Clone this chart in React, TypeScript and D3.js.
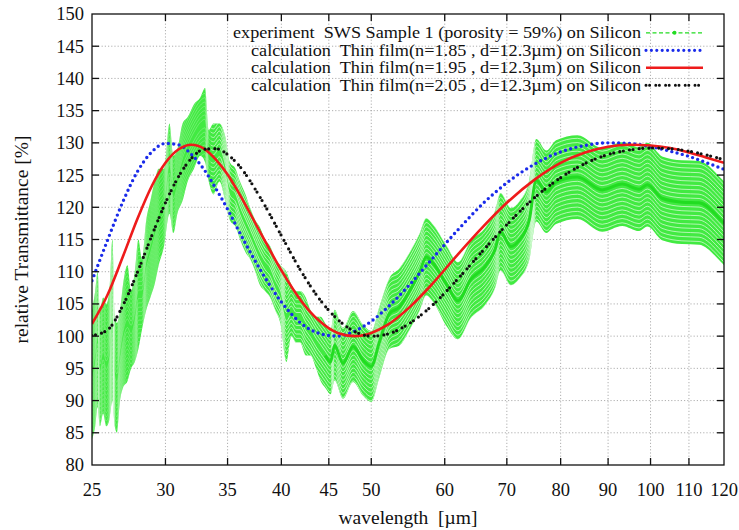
import React from 'react';
import * as d3 from 'd3';

const W = 739;
const H = 530;
const PL = 92, PR = 724, PT = 14, PB = 465;

const xTicks = [25, 30, 35, 40, 45, 50, 60, 70, 80, 90, 100, 110, 120];
const yTicks = [80, 85, 90, 95, 100, 105, 110, 115, 120, 125, 130, 135, 140, 145, 150];

// calculated thin-film curves (wavelength in µm, relative transmittance in %)
const calcWl = [25, 26, 27, 28, 29, 30, 31, 32, 33, 34, 35, 36, 38, 40, 42, 44, 46, 48, 50, 52, 55, 58, 62, 66, 70, 75, 80, 85, 90, 95, 100, 105, 110, 115, 120];
const blueT = [108.6, 115.0, 120.9, 125.6, 128.6, 129.9, 129.7, 128.2, 125.9, 122.9, 119.7, 116.3, 110.2, 105.3, 102.0, 100.4, 100.0, 100.8, 102.3, 104.4, 108.0, 111.8, 116.5, 120.6, 123.8, 126.7, 128.6, 129.6, 130.0, 129.9, 129.4, 128.7, 127.9, 126.9, 125.9];
const redT = [101.9, 106.5, 112.4, 118.3, 123.3, 126.9, 129.0, 129.7, 129.1, 127.4, 125.1, 122.2, 116.0, 110.2, 105.5, 102.3, 100.5, 100.0, 100.5, 101.7, 104.5, 107.9, 112.7, 117.0, 120.7, 124.3, 126.9, 128.5, 129.4, 129.7, 129.6, 129.2, 128.5, 127.7, 126.9];
const blackT = [100.1, 101.0, 104.8, 110.0, 115.6, 120.7, 124.8, 127.6, 129.0, 129.1, 128.2, 126.5, 121.4, 115.6, 110.1, 105.7, 102.6, 100.7, 100.0, 100.3, 102.0, 104.6, 108.9, 113.3, 117.3, 121.5, 124.6, 126.8, 128.2, 128.9, 129.2, 129.1, 128.7, 128.1, 127.4];

// experiment: wavelength, lower bar, value, upper bar
const expWl = [25.0, 25.2, 25.35, 25.5, 25.7, 25.9, 26.1, 26.3, 26.45, 26.6, 26.8, 27.0, 27.3, 27.55, 27.8, 28.05, 28.3, 28.6, 28.9, 29.2, 29.5, 29.9, 30.3, 30.6, 30.9, 31.3, 31.7, 32.2, 32.7, 33.1, 33.4, 33.8, 34.3, 34.8, 35.2, 35.7, 36.1, 36.6, 37.0, 37.5, 37.9, 38.4, 38.9, 39.4, 39.9, 40.5, 41.0, 41.5, 41.9, 42.5, 43.0, 43.6, 44.1, 44.6, 45.2, 45.65, 46.6, 47.8, 48.97, 50.0, 51.0, 52.3, 53.6, 55.0, 56.4, 57.3, 58.3, 60.3, 62.0, 64.0, 66.3, 68.0, 68.9, 70.7, 72.2, 74.0, 75.3, 77.2, 79.1, 83.4, 88.7, 93.2, 97.2, 99.2, 102.9, 108.1, 112.8, 119.1, 120];
const expLow = [84, 86, 89, 86, 88, 86, 87, 90, 86, 85, 90, 92, 93, 95, 96, 98, 101, 104, 106, 108, 111, 114, 119, 116, 119, 121, 124, 126, 128, 127, 124, 122, 124, 121, 118, 117, 115, 113, 112, 110, 108, 107, 106, 104, 102, 96, 100, 99, 99, 97, 97, 95, 93, 92, 91, 93.1, 90.3, 92.9, 90.8, 89.8, 93.5, 98, 98.5, 101, 104, 106.3, 105.3, 101.5, 99.5, 102.8, 104.8, 107.5, 110.2, 107.9, 108.9, 111.8, 117.8, 116.0, 117.4, 118.2, 116.2, 117.1, 116.3, 117.0, 114.9, 114.3, 114.2, 111.5, 111.0];
const expVal = [94, 96.5, 99.5, 95, 97, 95.5, 97, 102.5, 94.5, 93.5, 97, 100, 102, 101, 103, 106.5, 106.5, 111, 113.5, 116, 118.5, 120, 126, 122, 124, 127, 129, 131, 132.5, 133, 128, 127.5, 128.5, 126, 122.5, 121.5, 119.5, 117.5, 116, 114, 112.5, 111, 110, 108, 106.5, 103, 104, 103, 103, 101.5, 100.5, 99, 98, 97, 96, 98.6, 95.8, 98.4, 96.3, 95.3, 99, 103.5, 104.5, 107, 110, 112.3, 111.3, 108, 105.5, 108.8, 110.8, 113.5, 116.2, 113.9, 114.9, 118.0, 124.2, 122.4, 123.9, 124.7, 122.7, 123.6, 122.8, 123.5, 121.4, 120.8, 120.7, 118.0, 117.5];
const expHigh = [104, 107, 110, 104, 106, 105, 107, 115, 103, 102, 104, 108, 111, 107, 110, 115, 112, 118, 121, 124, 126, 126, 133, 128, 129, 133, 134, 136, 137, 138.5, 132, 133, 133, 131, 127, 126, 124, 122, 120, 118, 117, 115, 114, 112, 111, 110, 108, 107, 107, 106, 104, 103, 103, 102, 101, 104.1, 101.3, 103.9, 101.8, 100.8, 104.5, 109, 110.5, 113, 116, 118.3, 117.3, 114, 111.5, 114.8, 116.8, 119.5, 122.2, 119.9, 120.9, 124.2, 130.6, 128.8, 130.4, 131.2, 129.2, 130.1, 129.3, 130.0, 127.9, 127.3, 127.2, 124.5, 124.0];

const legendLabels = [
  'experiment  SWS Sample 1 (porosity = 59%) on Silicon',
  'calculation  Thin film(n=1.85 , d=12.3\u00b5m) on Silicon',
  'calculation  Thin film(n=1.95 , d=12.3\u00b5m) on Silicon',
  'calculation  Thin film(n=2.05 , d=12.3\u00b5m) on Silicon',
];
const legendWidths = [408, 390, 390, 390];

const FONT = "'Liberation Serif', 'Times New Roman', Tinos, 'DejaVu Serif', serif";
const GREEN_BAND = '#42ea42';
const GREEN_LINE = '#22dc22';
const BLUE = '#1a2bea';
const RED = '#ee1b1b';
const BLACK = '#111111';

export default function App() {
  const x = d3.scaleLog().domain([25, 120]).range([PL, PR]);
  const y = d3.scaleLinear().domain([80, 150]).range([PB, PT]);

  const curveLine = d3.line<number>()
    .x((_, i) => x(calcWl[i]))
    .curve(d3.curveMonotoneX);
  const bluePath = curveLine.y((d) => y(d))(blueT) || '';
  const redPath = curveLine.y((d) => y(d))(redT) || '';
  const blackPath = curveLine.y((d) => y(d))(blackT) || '';

  const idx = expWl.map((_, i) => i);
  const band = d3.area<number>()
    .x((i) => x(expWl[i]))
    .y0((i) => y(expLow[i]))
    .y1((i) => y(expHigh[i]))
    .curve(d3.curveMonotoneX)(idx) || '';
  const midLine = (off: number, ids: number[]) =>
    d3.line<number>()
      .x((i) => x(expWl[i]))
      .y((i) => y(expVal[i]) + off)
      .curve(d3.curveMonotoneX)(ids) || '';
  const stripeOffsets = d3.range(-18, 19).filter((k) => k !== 0).map((k) => k * 4.3);
  const splitWl = 33.6;
  const rightIds = idx.filter((i) => expWl[i] >= 44.6);

  const legendX1 = 646, legendX2 = 703, legendTextX = 641;
  const legendY = [32.8, 50.3, 67.8, 85.3];
  const textStyle = { fontFamily: FONT, whiteSpace: 'pre' as const };

  return (
    <svg width={W} height={H} style={{ display: 'block', position: 'absolute', left: 0, top: 0, background: '#fff', fontFamily: FONT }}>
      <defs>
        <clipPath id="plotClip">
          <rect x={PL} y={PT} width={PR - PL} height={PB - PT} />
        </clipPath>
        <clipPath id="bandClip">
          <path d={band} />
        </clipPath>
        <clipPath id="rightClip">
          <rect x={x(splitWl)} y={PT} width={PR - x(splitWl)} height={PB - PT} />
        </clipPath>
        <clipPath id="leftClip">
          <rect x={PL} y={PT} width={x(splitWl) - PL} height={PB - PT} />
        </clipPath>
      </defs>
      <rect x={0} y={0} width={W} height={H} fill="#fff" />
      {/* grid */}
      <g stroke="#9a9a9a" strokeWidth={0.8} strokeDasharray="1.2 2">
        {yTicks.slice(1, -1).map((t) => (
          <line key={'gy' + t} x1={PL} x2={PR} y1={y(t)} y2={y(t)} />
        ))}
        {xTicks.slice(1, -1).map((t) => (
          <line key={'gx' + t} x1={x(t)} x2={x(t)} y1={PT} y2={PB} />
        ))}
      </g>
      <g clipPath="url(#plotClip)">
        {/* experiment band */}
        <path d={band} fill={GREEN_BAND} />
        <g clipPath="url(#rightClip)">
          <g clipPath="url(#bandClip)" fill="none" stroke="#ffffff" strokeWidth={1.0} strokeOpacity={0.6}>
            {stripeOffsets.map((o) => (
              <path key={'s' + o} d={midLine(o, idx)} />
            ))}
          </g>
        </g>
        <g clipPath="url(#leftClip)">
          <g clipPath="url(#bandClip)" fill="none" stroke="#ffffff" strokeWidth={0.8} strokeOpacity={0.3}>
            {stripeOffsets.map((o) => (
              <path key={'sl' + o} d={midLine(o, idx)} />
            ))}
          </g>
        </g>
        <path d={midLine(0, rightIds)} fill="none" stroke={GREEN_LINE} strokeWidth={3} />
        {/* calculations */}
        <path d={bluePath} fill="none" stroke={BLUE} strokeWidth={3.4} strokeDasharray="0 5.4" strokeLinecap="round" />
        <path d={redPath} fill="none" stroke={RED} strokeWidth={2.6} />
        <path d={blackPath} fill="none" stroke={BLACK} strokeWidth={3.2} strokeDasharray="0 3.6 0 6.2" strokeLinecap="round" />
      </g>
      {/* legend */}
      <g fontSize={16} textAnchor="end" fill="#111">
        {legendLabels.map((t, i) => (
          <text key={'l' + i} x={legendTextX} y={legendY[i]} dy="0.35em" style={textStyle}
            textLength={legendWidths[i]} lengthAdjust="spacingAndGlyphs">{t}</text>
        ))}
      </g>
      <line x1={legendX1} x2={legendX2} y1={legendY[0]} y2={legendY[0]} stroke={GREEN_LINE} strokeWidth={1.2} strokeDasharray="4 2.5" />
      <circle cx={(legendX1 + legendX2) / 2} cy={legendY[0]} r={2} fill={GREEN_LINE} />
      <line x1={legendX1} x2={legendX2} y1={legendY[1]} y2={legendY[1]} stroke={BLUE} strokeWidth={3.2} strokeDasharray="0 5.4" strokeLinecap="round" />
      <line x1={legendX1} x2={legendX2} y1={legendY[2]} y2={legendY[2]} stroke={RED} strokeWidth={2.6} />
      <line x1={legendX1} x2={legendX2} y1={legendY[3]} y2={legendY[3]} stroke={BLACK} strokeWidth={3} strokeDasharray="0 3.6 0 6.2" strokeLinecap="round" />
      {/* frame and ticks */}
      <rect x={PL} y={PT} width={PR - PL} height={PB - PT} fill="none" stroke="#111" strokeWidth={1.3} />
      <g stroke="#111" strokeWidth={1.3}>
        {yTicks.slice(1, -1).map((t) => (
          <g key={'ty' + t}>
            <line x1={PL} x2={PL + 7} y1={y(t)} y2={y(t)} />
            <line x1={PR} x2={PR - 7} y1={y(t)} y2={y(t)} />
          </g>
        ))}
        {xTicks.slice(1, -1).map((t) => (
          <g key={'tx' + t}>
            <line x1={x(t)} x2={x(t)} y1={PB} y2={PB - 7} />
            <line x1={x(t)} x2={x(t)} y1={PT} y2={PT + 7} />
          </g>
        ))}
      </g>
      <g fontSize={18.5} fill="#111">
        {yTicks.map((t) => (
          <text key={'yl' + t} x={PL - 8} y={y(t)} dy="0.35em" textAnchor="end" style={textStyle}>{t}</text>
        ))}
        {xTicks.map((t) => (
          <text key={'xl' + t} x={x(t)} y={PB + 25} dy="0.35em" textAnchor="middle" style={textStyle}>{t}</text>
        ))}
      </g>
      <text x={408} y={517} dy="0.35em" textAnchor="middle" fontSize={19.5} fill="#111" style={textStyle}>wavelength  [µm]</text>
      <text transform={`translate(21,${(PT + PB) / 2}) rotate(-90)`} textAnchor="middle" dy="0.35em" fontSize={19.5} fill="#111" style={textStyle}>relative Transmittance [%]</text>
    </svg>
  );
}
